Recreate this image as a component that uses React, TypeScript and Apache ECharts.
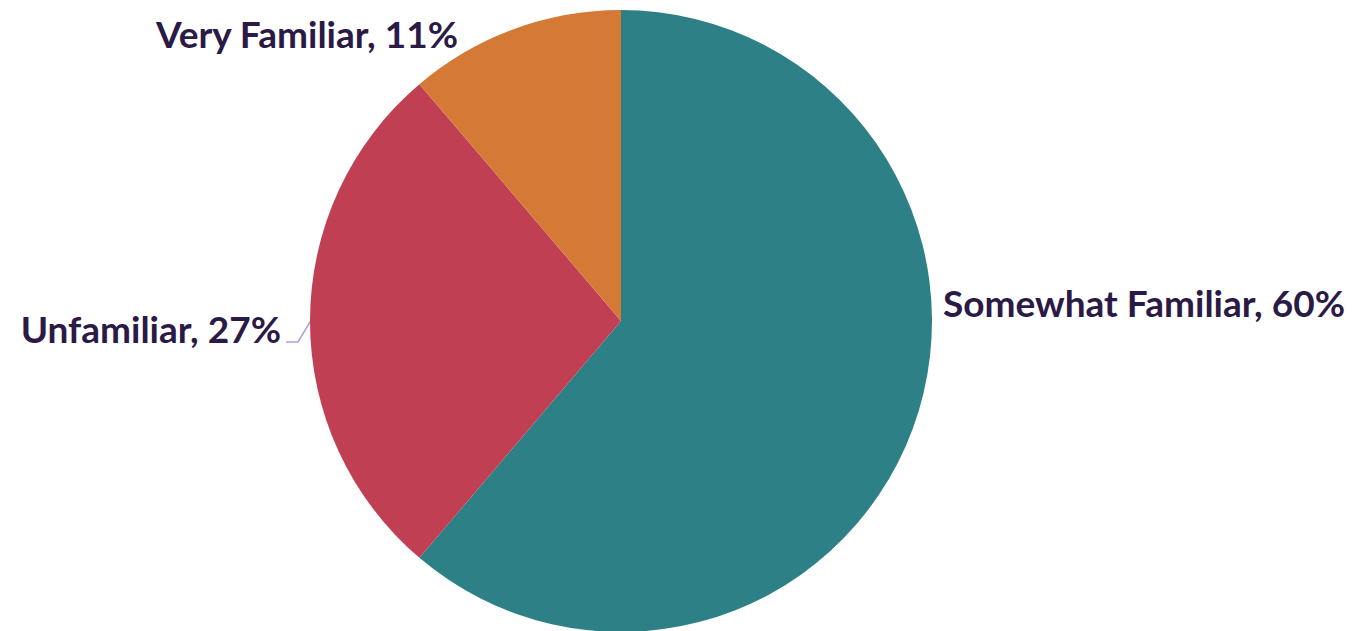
import React, { useEffect, useRef } from "react";
import * as echarts from "echarts";

const categories = ["Somewhat Familiar", "Unfamiliar", "Very Familiar"];
const values = [60, 27, 11];
const colors = ["#2E8087", "#C13F52", "#D57A36"];

export default function App() {
  const ref = useRef<HTMLDivElement>(null);
  useEffect(() => {
    document.body.style.margin = "0";
    const chart = echarts.init(ref.current!, undefined, { renderer: "svg" });
    const labelPos = [
      { x: 943, y: 302, align: "left" },
      { x: 281, y: 328, align: "right" },
      { x: 458, y: 33, align: "right" },
    ];
    chart.setOption({
      animation: false,
      backgroundColor: "#ffffff",
      series: [
        {
          type: "pie",
          center: [621, 321],
          radius: 311,
          startAngle: 90,
          clockwise: true,
          data: categories.map((c, i) => ({
            name: c,
            value: values[i],
            itemStyle: { color: colors[i] },
            labelLine: { show: i === 1 },
          })),
          label: {
            show: true,
            position: "outside",
            overflow: "none",
            formatter: (p: any) => `${p.name}, ${p.value}%`,
            fontFamily: "Lato",
            fontWeight: "bold",
            fontSize: 37,
            color: "#2A1A45",
          },
          labelLine: {
            show: true,
            lineStyle: { color: "#B39DDB", width: 1.5 },
          },
          labelLayout: (params: any) => {
            const lp = labelPos[params.dataIndex];
            const out: any = {
              x: lp.x,
              y: lp.y,
              align: lp.align,
              verticalAlign: "middle",
            };
            if (params.dataIndex === 1) {
              out.labelLinePoints = [
                [310, 322],
                [298, 342],
                [286, 342],
              ];
            }
            return out;
          },
        },
      ],
    });
    return () => chart.dispose();
  }, []);
  return <div ref={ref} style={{ width: 1353, height: 631 }} />;
}
